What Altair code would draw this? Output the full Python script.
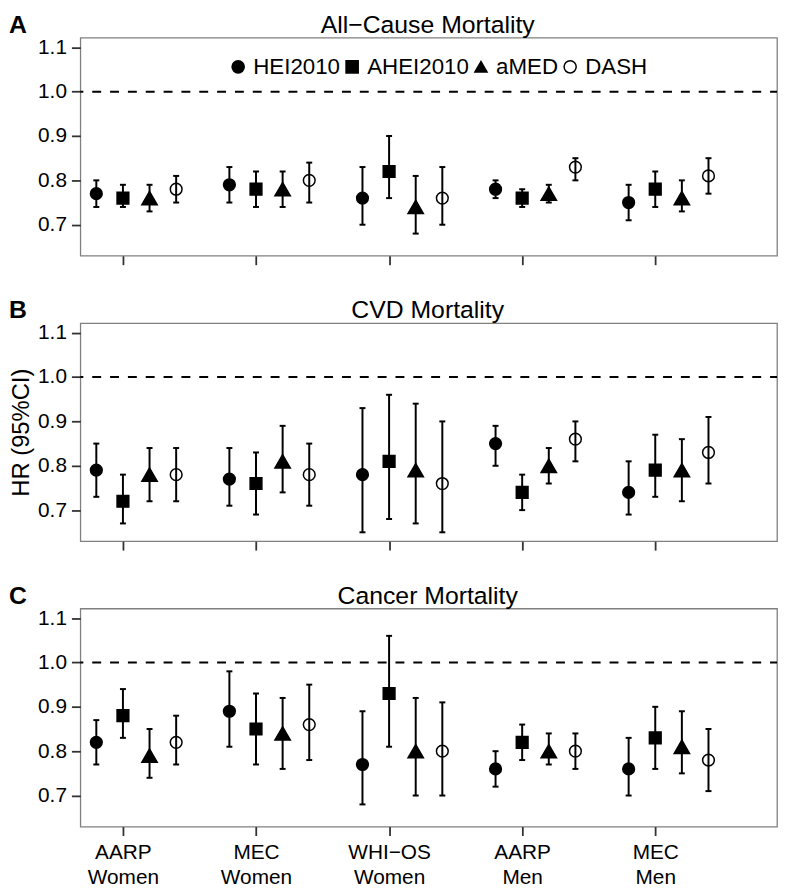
import json
import altair as alt
import pandas as pd

# ---------------- data ----------------
cohort_lines = [["AARP", "Women"], ["MEC", "Women"], ["WHI\u2212OS", "Women"],
                ["AARP", "Men"], ["MEC", "Men"]]
indexes = ["HEI2010", "AHEI2010", "aMED", "DASH"]
panel_titles = ["All\u2212Cause Mortality", "CVD Mortality", "Cancer Mortality"]
panel_letters = ["A", "B", "C"]
ref_line = [1.0]
y_ticks = [0.7, 0.8, 0.9, 1.0, 1.1]

allcause_hr = {"HEI2010": [0.77, 0.79, 0.76, 0.78, 0.75],
               "AHEI2010": [0.76, 0.78, 0.82, 0.76, 0.78],
               "aMED": [0.76, 0.78, 0.74, 0.77, 0.76],
               "DASH": [0.78, 0.80, 0.76, 0.83, 0.81]}
allcause_lo = {"HEI2010": [0.74, 0.75, 0.70, 0.76, 0.71],
               "AHEI2010": [0.74, 0.74, 0.76, 0.74, 0.74],
               "aMED": [0.73, 0.74, 0.68, 0.75, 0.73],
               "DASH": [0.75, 0.75, 0.70, 0.80, 0.77]}
allcause_hi = {"HEI2010": [0.80, 0.83, 0.83, 0.80, 0.79],
               "AHEI2010": [0.79, 0.82, 0.90, 0.78, 0.82],
               "aMED": [0.79, 0.82, 0.81, 0.79, 0.80],
               "DASH": [0.81, 0.84, 0.83, 0.85, 0.85]}

cvd_hr = {"HEI2010": [0.79, 0.77, 0.78, 0.85, 0.74],
          "AHEI2010": [0.72, 0.76, 0.81, 0.74, 0.79],
          "aMED": [0.78, 0.81, 0.79, 0.80, 0.79],
          "DASH": [0.78, 0.78, 0.76, 0.86, 0.83]}
cvd_lo = {"HEI2010": [0.73, 0.71, 0.65, 0.80, 0.69],
          "AHEI2010": [0.67, 0.69, 0.68, 0.70, 0.73],
          "aMED": [0.72, 0.74, 0.67, 0.76, 0.72],
          "DASH": [0.72, 0.71, 0.65, 0.81, 0.76]}
cvd_hi = {"HEI2010": [0.85, 0.84, 0.93, 0.89, 0.81],
          "AHEI2010": [0.78, 0.83, 0.96, 0.78, 0.87],
          "aMED": [0.84, 0.89, 0.94, 0.84, 0.86],
          "DASH": [0.84, 0.85, 0.90, 0.90, 0.91]}

cancer_hr = {"HEI2010": [0.82, 0.89, 0.77, 0.76, 0.76],
             "AHEI2010": [0.88, 0.85, 0.93, 0.82, 0.83],
             "aMED": [0.79, 0.84, 0.80, 0.80, 0.81],
             "DASH": [0.82, 0.86, 0.80, 0.80, 0.78]}
cancer_lo = {"HEI2010": [0.77, 0.81, 0.68, 0.72, 0.70],
             "AHEI2010": [0.83, 0.77, 0.81, 0.78, 0.76],
             "aMED": [0.74, 0.76, 0.70, 0.77, 0.75],
             "DASH": [0.77, 0.78, 0.70, 0.76, 0.71]}
cancer_hi = {"HEI2010": [0.87, 0.98, 0.89, 0.80, 0.83],
             "AHEI2010": [0.94, 0.93, 1.06, 0.86, 0.90],
             "aMED": [0.85, 0.92, 0.92, 0.84, 0.89],
             "DASH": [0.88, 0.95, 0.91, 0.84, 0.85]}

# ---------------- layout / style ----------------
DODGE = {"HEI2010": -0.2, "AHEI2010": 0.0, "aMED": 0.2, "DASH": 0.4}
FONT = "Liberation Sans"
W, H = 703, 220


def build(hr, lo, hi):
    rows = []
    for s in indexes:
        for i in range(len(cohort_lines)):
            rows.append({"score": s, "pos": i + 1 + DODGE[s],
                         "hr": hr[s][i], "lo": lo[s][i], "hi": hi[s][i]})
    return pd.DataFrame(rows)


label_expr = json.dumps(cohort_lines) + "[datum.value - 1]"


def panel(k, hr, lo, hi):
    df = build(hr, lo, hi)
    show_labels = k == 2
    xenc = alt.X("pos:Q",
                 scale=alt.Scale(domain=[0.68, 5.915], nice=False, zero=False),
                 axis=alt.Axis(values=[1, 2, 3, 4, 5], labels=show_labels,
                               labelExpr=label_expr, title=None, grid=False,
                               domain=False, tickSize=9, tickWidth=1.8,
                               tickColor="#333333", labelFontSize=21,
                               labelColor="black", labelPadding=6,
                               labelLineHeight=25.5, labelFont=FONT))
    yaxis = alt.Axis(values=y_ticks, format=".1f", grid=False, domain=False,
                     tickSize=9, tickWidth=1.8, tickColor="#333333",
                     labelFontSize=21, labelColor="black", labelPadding=5,
                     labelFont=FONT,
                     title="HR (95%CI)" if k == 1 else None,
                     titleFontSize=24, titleFontWeight="normal",
                     titleColor="black", titlePadding=4, titleFont=FONT)
    yscale = alt.Scale(domain=[0.63, 1.1215], nice=False, zero=False)
    yenc = alt.Y("hr:Q", scale=yscale, axis=yaxis)

    base = alt.Chart(df)
    dash = alt.Chart(pd.DataFrame({"ref": ref_line})).mark_rule(
        color="black", strokeWidth=2, strokeDash=[9, 9], strokeDashOffset=2
    ).encode(y=alt.Y("ref:Q", scale=yscale, axis=yaxis))

    err = base.mark_rule(color="black", strokeWidth=2, opacity=1).encode(
        x=xenc, y=alt.Y("lo:Q", scale=yscale, axis=yaxis), y2="hi:Q")
    cap_lo = base.mark_tick(orient="horizontal", color="black", size=6,
                            thickness=2, opacity=1).encode(
        x=xenc, y=alt.Y("lo:Q", scale=yscale, axis=yaxis))
    cap_hi = base.mark_tick(orient="horizontal", color="black", size=6,
                            thickness=2, opacity=1).encode(
        x=xenc, y=alt.Y("hi:Q", scale=yscale, axis=yaxis))

    if k == 0:
        leg = alt.Legend(orient="none", legendX=148, legendY=18,
                         direction="horizontal", columns=4, title=None,
                         labelFontSize=22.5, labelFont=FONT, labelColor="black",
                         symbolSize=150, symbolStrokeWidth=1.5,
                         labelOffset=4, columnPadding=0, padding=0)
    else:
        leg = None
    shape = alt.Shape("score:N", legend=leg,
                      scale=alt.Scale(domain=indexes,
                                      range=["circle", "square", "triangle-up", "circle"]))
    fill = alt.Fill("score:N", legend=leg,
                    scale=alt.Scale(domain=indexes,
                                    range=["black", "black", "black", "transparent"]))
    stroke = alt.Stroke("score:N", legend=leg,
                        scale=alt.Scale(domain=indexes,
                                        range=["black", "black", "black", "black"]))
    pts = base.mark_point(filled=True, opacity=1, strokeWidth=1.5).encode(
        x=xenc, y=yenc, shape=shape, fill=fill, stroke=stroke,
        size=alt.condition(alt.datum.score == "aMED", alt.value(240), alt.value(140)))

    letter = alt.Chart(pd.DataFrame({"t": [panel_letters[k]]})).mark_text(
        align="left", baseline="alphabetic", fontSize=25, fontWeight="bold",
        font=FONT, color="black"
    ).encode(text="t:N", x=alt.value(-72), y=alt.value(-5))

    title = alt.Chart(pd.DataFrame({"t": [panel_titles[k]]})).mark_text(
        align="center", baseline="alphabetic", fontSize=25,
        font=FONT, color="black"
    ).encode(text="t:N", x=alt.value(W / 2 - 1), y=alt.value(-5))

    return alt.layer(dash, err, cap_lo, cap_hi, pts, letter, title).properties(
        width=W, height=H)


panels = [panel(0, allcause_hr, allcause_lo, allcause_hi),
          panel(1, cvd_hr, cvd_lo, cvd_hi),
          panel(2, cancer_hr, cancer_lo, cancer_hi)]

chart = alt.vconcat(*panels, spacing=68, bounds="flush").configure(
    font=FONT, padding=0
).configure_view(stroke="#808080", strokeWidth=1.3)

chart.save("out.html", embed_options={"renderer": "svg", "actions": False})
